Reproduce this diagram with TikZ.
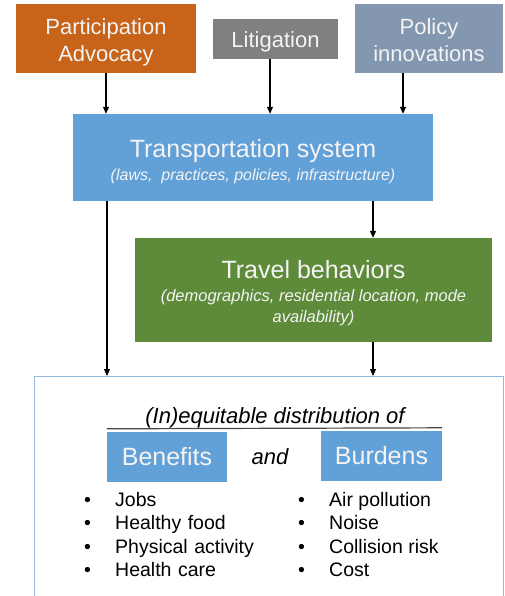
\documentclass[tikz,border=0pt]{standalone}
\usepackage{fontspec}
\setmainfont{Liberation Sans}
\usetikzlibrary{arrows.meta,positioning}

\definecolor{advorange}{RGB}{200,100,25}
\definecolor{litgray}{RGB}{128,128,128}
\definecolor{policyblue}{RGB}{132,151,176}
\definecolor{sysblue}{RGB}{98,160,216}
\definecolor{travelgreen}{RGB}{94,139,58}
\definecolor{frameblue}{RGB}{150,185,225}
\definecolor{rulegray}{RGB}{70,70,70}
\definecolor{boxtext}{RGB}{244,244,244}

\begin{document}
\begin{tikzpicture}[x=1pt,y=-1pt,
    box/.style={fill=#1, text=boxtext, inner sep=0pt, align=center},
    flow/.style={-{Triangle[length=7pt,width=6pt]}, line width=1.1pt},
    big/.style={font=\fontsize{22}{27}\selectfont}]
\path[use as bounding box, clip] (0,0) rectangle (505,596);
\node[box=advorange, big, text height=47pt, text depth=0pt, minimum width=180pt, minimum height=69pt] (advocacy) at (106,38.5) {Participation\\Advocacy};
\node[box=litgray, big, text height=18pt, text depth=0pt, minimum width=125pt, minimum height=40pt] (litigation) at (275.5,39) {Litigation};
\node[box=policyblue, big, text height=47pt, text depth=0pt, minimum width=148pt, minimum height=69pt] (policy) at (429,38.5) {Policy\\innovations};
\node[box=sysblue, text height=45pt, text depth=0pt, minimum width=360pt, minimum height=87pt, font=\fontsize{16}{23}\selectfont] (transport) at (253,157.5)
    {{\fontsize{25}{23}\selectfont Transportation system}\\\textit{(laws,\ \ practices, policies, infrastructure)}};
\node[box=travelgreen, text height=64pt, text depth=0pt, minimum width=357pt, minimum height=104pt, font=\fontsize{16.5}{21}\selectfont] (travel) at (313.5,290)
    {{\fontsize{25}{21}\selectfont Travel behaviors}\\[2pt]\textit{(demographics, residential location, mode}\\\textit{availability)}};
\node[draw=frameblue, line width=1pt, minimum width=469pt, minimum height=240pt, anchor=north, inner sep=0pt] (outcome) at (268.5,376) {};

\coordinate (litfoot) at ([xshift=-5.5pt]litigation.south);
\coordinate (polfoot) at ([xshift=-26pt]policy.south);
\coordinate (sysleft) at ([xshift=-146pt]transport.south);
\coordinate (sysright) at ([xshift=120pt]transport.south);
\coordinate (travfoot) at ([xshift=59.5pt]travel.south);
\draw[flow] (advocacy.south) -- (advocacy.south |- transport.north);
\draw[flow] (litfoot) -- (litfoot |- transport.north);
\draw[flow] (polfoot) -- (polfoot |- transport.north);
\draw[flow] (sysright) -- (sysright |- travel.north);
\draw[flow] (sysleft) -- (sysleft |- outcome.north);
\draw[flow] (travfoot) -- (travfoot |- outcome.north);

\node[anchor=base, font=\fontsize{22}{26}\selectfont\itshape] (heading) at (275,423) {(In)equitable distribution of};
\node[box=sysblue, minimum width=120pt, minimum height=50pt, font=\fontsize{25}{30}\selectfont] (benefits) at (167,457) {Benefits};
\node[box=sysblue, minimum width=121pt, minimum height=50pt, font=\fontsize{25}{30}\selectfont] (burdens) at (381.5,456) {Burdens};
\node[anchor=base, font=\fontsize{22}{26}\selectfont\itshape] (and) at (270,464) {and};
\draw[rulegray, line width=1.2pt] ([yshift=3pt]benefits.north west) -- ([yshift=3pt]burdens.north east);

\node [matrix,ampersand replacement=\&,anchor=north west,inner sep=0pt,
    nodes={anchor=base west,inner sep=0pt,text height=16pt,text depth=7.5pt,font=\fontsize{19.5}{23.5}\selectfont}] (lists) at (84,490)
    {
\node[text width=31pt] {\textbullet}; \& \node[text width=183pt] {Jobs}; \& \node[text width=31pt] {\textbullet}; \& \node {Air pollution}; \\
\node[text width=31pt] {\textbullet}; \& \node[text width=183pt] {Healthy food}; \& \node[text width=31pt] {\textbullet}; \& \node {Noise}; \\
\node[text width=31pt] {\textbullet}; \& \node[text width=183pt] {Physical activity}; \& \node[text width=31pt] {\textbullet}; \& \node {Collision risk}; \\
\node[text width=31pt] {\textbullet}; \& \node[text width=183pt] {Health care}; \& \node[text width=31pt] {\textbullet}; \& \node {Cost}; \\
};
\end{tikzpicture}
\end{document}
